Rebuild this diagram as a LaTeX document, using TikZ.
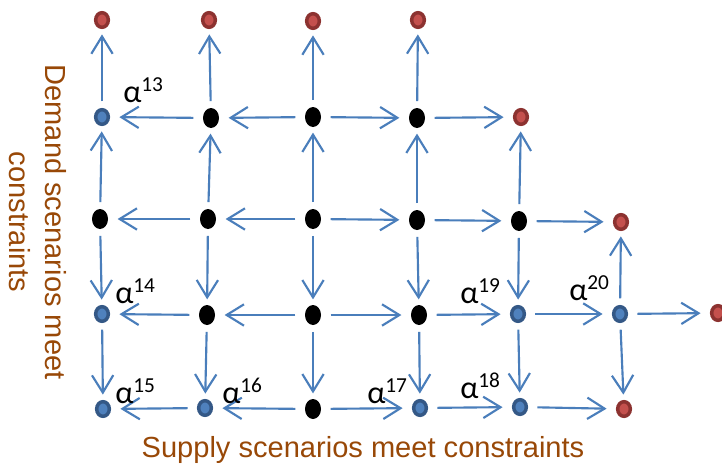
\documentclass[tikz,border=0pt]{standalone}
\usepackage{fontspec}
\setmainfont{Carlito}
\newfontfamily\capfont{Liberation Sans}
\usetikzlibrary{arrows.meta,shapes.geometric}
\definecolor{flowblue}{RGB}{74,126,187}
\definecolor{bluering}{RGB}{52,88,134}
\definecolor{bluecore}{RGB}{79,129,189}
\definecolor{redring}{RGB}{140,50,48}
\definecolor{redcore}{RGB}{196,80,77}
\definecolor{captext}{RGB}{152,72,7}
\newcommand{\alab}[1]{α\raisebox{8pt}{\fontsize{16}{16}\selectfont #1}}
\tikzset{
  flowpt/.style={ellipse, fill=black, inner sep=0pt, minimum width=12pt, minimum height=15pt},
  alphapt/.style={ellipse, draw=bluering, fill=bluecore, line width=2.6pt, inner sep=0pt,
    minimum width=9.5pt, minimum height=11pt},
  limitpt/.style={alphapt, draw=redring, fill=redcore},
  flowarrow/.style={draw=flowblue, line width=1.6pt,
    -{Straight Barb[length=13pt, width=16pt, line width=1.6pt]}},
  hflow/.style={flowarrow, shorten <=7pt, shorten >=7pt},
  vflow/.style={flowarrow, shorten <=5pt, shorten >=4pt},
  alabel/.style={font=\fontsize{24}{26}\selectfont, inner sep=0pt, anchor=base west},
  axistext/.style={font=\capfont\fontsize{21.8}{27.5}\selectfont, text=captext, align=center}
}

\begin{document}
\begin{tikzpicture}[x=0.75pt, y=-0.75pt]
    \useasboundingbox (0,0) rectangle (722,471);
    % top row
    \node[limitpt] (n00) at (102,20) {};
    \node[limitpt] (n01) at (209,20) {};
    \node[limitpt] (n02) at (313,21) {};
    \node[limitpt] (n03) at (418,20) {};
    % second row
    \node[alphapt] (n10) at (102,117) {};
    \node[flowpt] (n11) at (211,118) {};
    \node[flowpt] (n12) at (313,117) {};
    \node[flowpt] (n13) at (417,118) {};
    \node[limitpt] (n14) at (521,117) {};
    % middle row
    \node[flowpt] (n20) at (100,219) {};
    \node[flowpt] (n21) at (208,219) {};
    \node[flowpt] (n22) at (313,219) {};
    \node[flowpt] (n23) at (417,220) {};
    \node[flowpt] (n24) at (519,221) {};
    \node[limitpt] (n25) at (621,222) {};
    % fourth row
    \node[alphapt] (n30) at (102,314) {};
    \node[flowpt] (n31) at (207,315) {};
    \node[flowpt] (n32) at (313,315) {};
    \node[flowpt] (n33) at (419,315) {};
    \node[alphapt] (n34) at (518,314) {};
    \node[alphapt] (n35) at (620,314) {};
    \node[limitpt] (n36) at (718,313) {};
    % bottom row
    \node[alphapt] (n40) at (103,409) {};
    \node[alphapt] (n41) at (205,408) {};
    \node[flowpt] (n42) at (313,409) {};
    \node[alphapt] (n43) at (420,408) {};
    \node[alphapt] (n44) at (520,407) {};
    \node[limitpt] (n45) at (624,409) {};

    % arrows
    \foreach \a/\b in {n10/n00, n11/n01, n12/n02, n13/n03, n20/n10, n21/n11, n22/n12,
        n23/n13, n24/n14, n35/n25, n20/n30, n21/n31, n22/n32, n23/n33, n24/n34,
        n30/n40, n31/n41, n32/n42, n33/n43, n34/n44, n35/n45}
      \draw[vflow] (\a) -- (\b);
    \foreach \a/\b in {n11/n10, n12/n11, n21/n20, n22/n21, n31/n30, n32/n31, n41/n40,
        n42/n41, n12/n13, n13/n14, n22/n23, n23/n24, n24/n25, n32/n33, n33/n34,
        n34/n35, n35/n36, n42/n43, n43/n44, n44/n45}
      \draw[hflow] (\a) -- (\b);

    % alpha labels
    \node[alabel] (l13) at (123,102) {\alab{13}};
    \node[alabel] (l14) at (115,303) {\alab{14}};
    \node[alabel] (l15) at (115,403) {\alab{15}};
    \node[alabel] (l16) at (222,403) {\alab{16}};
    \node[alabel] (l17) at (367,403) {\alab{17}};
    \node[alabel] (l18) at (460,398) {\alab{18}};
    \node[alabel] (l19) at (460,303) {\alab{19}};
    \node[alabel] (l20) at (569,300) {\alab{20}};

    % axis captions
    \node[axistext] (supply) at (363,450) {Supply scenarios meet constraints};
    \node[axistext, rotate=-90] (demand) at (38,222) {Demand scenarios meet\\constraints};
  \end{tikzpicture}
\end{document}
